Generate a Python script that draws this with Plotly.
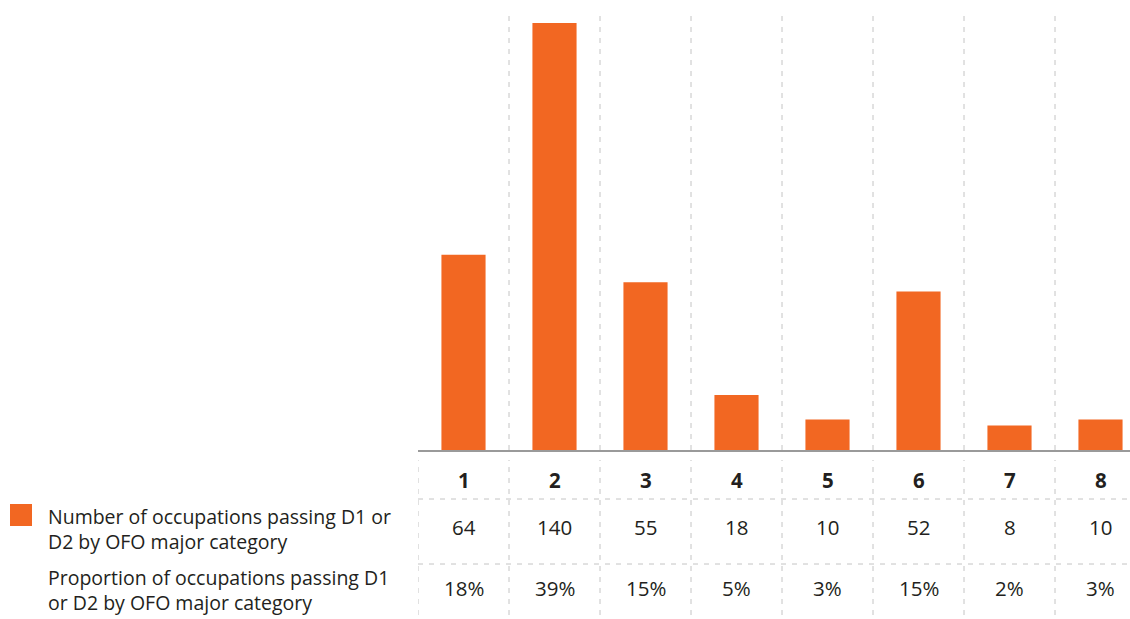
import plotly.graph_objects as go

# OFO major categories and the two table rows shown under the bars
categories = ["1", "2", "3", "4", "5", "6", "7", "8"]
occupations = [64, 140, 55, 18, 10, 52, 8, 10]
proportions = ["18%", "39%", "15%", "5%", "3%", "15%", "2%", "3%"]

legend_number = "Number of occupations passing D1 or<br>D2 by OFO major category"
legend_share = "Proportion of occupations passing D1<br>or D2 by OFO major category"

W, H = 1130, 619
ORANGE = "#F26722"
GRID = "#c4c4c4"
TEXT = "#231F20"
FONT = "Open Sans"

BASE_PX = 450      # baseline of the bars
TOP_PX = 23        # top of the tallest bar
PLOT_LEFT = 418    # left edge of the table / x axis


def py(px):
    """Convert a pixel row (from the top) into paper coordinates."""
    return 1 - px / H


fig = go.Figure(
    go.Bar(
        x=list(range(len(categories))),
        y=occupations,
        marker=dict(color=ORANGE, line=dict(width=0)),
        width=0.485,
        showlegend=False,
        hoverinfo="skip",
    )
)

ymax = max(occupations) * BASE_PX / (BASE_PX - TOP_PX)
cat_px = 91.0
xmax = -0.5 + (W - PLOT_LEFT) / cat_px

fig.update_layout(
    width=W,
    height=H,
    margin=dict(l=0, r=0, t=0, b=0),
    paper_bgcolor="white",
    plot_bgcolor="white",
    xaxis=dict(
        domain=[PLOT_LEFT / W, 1],
        range=[-0.5, xmax],
        showgrid=False,
        zeroline=False,
        showticklabels=False,
        ticks="",
        fixedrange=True,
    ),
    yaxis=dict(
        domain=[py(BASE_PX), 1],
        range=[0, ymax],
        showgrid=False,
        zeroline=False,
        showticklabels=False,
        ticks="",
        fixedrange=True,
    ),
    font=dict(family=FONT, color=TEXT),
)

shapes = []
dash = "5px,6px"
# vertical separators between categories in the bar area
for i in range(len(categories) - 1):
    shapes.append(dict(type="line", xref="x", yref="paper",
                       x0=i + 0.5, x1=i + 0.5, y0=py(BASE_PX), y1=py(15),
                       line=dict(color=GRID, width=1, dash=dash), layer="below"))
# vertical separators in the table
for i in range(-1, len(categories)):
    shapes.append(dict(type="line", xref="x", yref="paper",
                       x0=i + 0.5, x1=i + 0.5, y0=py(615), y1=py(460),
                       line=dict(color=GRID, width=1, dash=dash)))
# horizontal table rules
for row_px in (499, 564):
    shapes.append(dict(type="line", xref="paper", yref="paper",
                       x0=PLOT_LEFT / W, x1=1, y0=py(row_px), y1=py(row_px),
                       line=dict(color=GRID, width=1, dash=dash)))
# axis baseline
shapes.append(dict(type="line", xref="paper", yref="paper",
                   x0=PLOT_LEFT / W, x1=1, y0=py(BASE_PX + 1), y1=py(BASE_PX + 1),
                   line=dict(color="#9a9a9a", width=2), layer="below"))
# legend swatch
shapes.append(dict(type="rect", xref="paper", yref="paper",
                   x0=10 / W, x1=32 / W, y0=py(526), y1=py(504),
                   fillcolor=ORANGE, line=dict(width=0)))
fig.update_layout(shapes=shapes)

CELL_SIZE = 20.5
annotations = []
for i, (cat, n, p) in enumerate(zip(categories, occupations, proportions)):
    annotations.append(dict(x=i, y=py(480), xref="x", yref="paper", text=f"<b>{cat}</b>",
                            showarrow=False, font=dict(size=CELL_SIZE, color=TEXT),
                            xanchor="center", yanchor="middle"))
    annotations.append(dict(x=i, y=py(527), xref="x", yref="paper", text=str(n),
                            showarrow=False, font=dict(size=CELL_SIZE, color=TEXT),
                            xanchor="center", yanchor="middle"))
    annotations.append(dict(x=i, y=py(588), xref="x", yref="paper", text=p,
                            showarrow=False, font=dict(size=CELL_SIZE, color=TEXT),
                            xanchor="center", yanchor="middle"))

annotations.append(dict(x=46 / W, y=py(529), xref="paper", yref="paper", text=legend_number,
                        showarrow=False, align="left", xanchor="left", yanchor="middle",
                        font=dict(size=19.5, color=TEXT)))
annotations.append(dict(x=46 / W, y=py(590), xref="paper", yref="paper", text=legend_share,
                        showarrow=False, align="left", xanchor="left", yanchor="middle",
                        font=dict(size=19.5, color=TEXT)))
fig.update_layout(annotations=annotations)

fig.write_html("out.html")
